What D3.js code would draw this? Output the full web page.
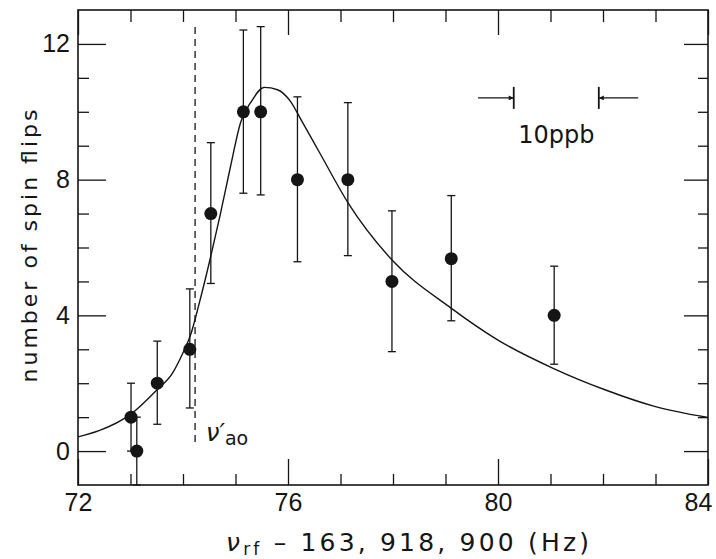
<!DOCTYPE html>
<html>
<head>
<meta charset="utf-8">
<script src="https://cdn.jsdelivr.net/npm/d3@7.9.0/dist/d3.min.js"></script>
<style>
  body { margin: 0; background: #fff; }
  svg { display: block; font-family: "DejaVu Sans", sans-serif; }
</style>
</head>
<body>
<svg id="chart" width="716" height="559"></svg>
<script>
// measured points (frequency offset in Hz, number of spin flips, error bar ends)
const freq  = [73.01, 73.12, 73.51, 74.13, 74.53, 75.15, 75.48, 76.18, 77.14, 77.98, 79.11, 81.07];
const flips = [1, 0, 2, 3, 7, 10, 10, 8, 8, 5, 5.67, 4];
const errHi = [2, 1, 3.24, 4.78, 9.09, 12.41, 12.51, 10.44, 10.27, 7.08, 7.53, 5.45];
const errLo = [0, -1, 0.79, 1.27, 4.94, 7.6, 7.55, 5.58, 5.76, 2.93, 3.84, 2.56];

// fitted line shape
const fitX = [72, 72.4, 73.0, 73.5, 73.8, 74.0, 74.15, 74.3, 74.5, 74.7, 74.9, 75.1, 75.3, 75.55,
              75.8, 76.05, 76.25, 76.6, 77.15, 78.0, 79.1, 80.0, 81.05, 82.05, 83.0, 84.0];
const fitY = [0.42, 0.6, 1.08, 1.8, 2.3, 2.9, 3.45, 4.3, 5.55, 6.9, 8.35, 9.7, 10.3, 10.72,
              10.65, 10.3, 9.76, 8.8, 7.3, 5.6, 4.22, 3.27, 2.44, 1.8, 1.31, 0.99];

const xTicks = [72, 76, 80, 84];
const yTicks = [0, 4, 8, 12];
const xMinor = [73, 74, 75, 77, 78, 79, 81, 82, 83];
const yMinor = [1, 2, 3, 5, 6, 7, 9, 10, 11];

const nuAo = 74.23;          // dashed line position
const nuAoSpan = [12.5, 0.25];
const ppbBars = [80.30, 81.92];
const ppbTails = [79.62, 82.67];
const ppbLevel = 10.41;

const svg = d3.select('#chart');
const ink = '#151515';

const x = d3.scaleLinear().domain([72, 84]).range([78, 708]);
const y = d3.scaleLinear().domain([-1, 13]).range([485, 10]);

// axes: ticks point inward on all four sides
function styleAxis(g, fs) {
  g.select('.domain').remove();
  g.selectAll('line').attr('stroke', ink).attr('stroke-width', 1.3);
  g.selectAll('text').attr('fill', ink).attr('font-size', fs);
}

svg.append('g').attr('transform', `translate(0,${y(-1)})`)
  .call(d3.axisBottom(x).tickValues(xTicks).tickSize(-26).tickPadding(8).tickFormat(d3.format('d')))
  .call(g => styleAxis(g, 25))
  .call(g => g.selectAll('.tick').filter(d => d === 84).select('text').attr('dx', -10));
svg.append('g').attr('transform', `translate(0,${y(-1)})`)
  .call(d3.axisBottom(x).tickValues(xMinor).tickSize(-11).tickFormat(''))
  .call(g => styleAxis(g, 10));
svg.append('g').attr('transform', `translate(0,${y(13)})`)
  .call(d3.axisTop(x).tickValues(xTicks).tickSize(-25).tickFormat(''))
  .call(g => styleAxis(g, 10));
svg.append('g').attr('transform', `translate(0,${y(13)})`)
  .call(d3.axisTop(x).tickValues(xMinor).tickSize(-12).tickFormat(''))
  .call(g => styleAxis(g, 10));

svg.append('g').attr('transform', `translate(${x(72)},0)`)
  .call(d3.axisLeft(y).tickValues(yTicks).tickSize(-28).tickPadding(8).tickFormat(d3.format('d')))
  .call(g => styleAxis(g, 25));
svg.append('g').attr('transform', `translate(${x(72)},0)`)
  .call(d3.axisLeft(y).tickValues(yMinor).tickSize(-11).tickFormat(''))
  .call(g => styleAxis(g, 10));
svg.append('g').attr('transform', `translate(${x(84)},0)`)
  .call(d3.axisRight(y).tickValues(yTicks).tickSize(-24).tickFormat(''))
  .call(g => styleAxis(g, 10));
svg.append('g').attr('transform', `translate(${x(84)},0)`)
  .call(d3.axisRight(y).tickValues(yMinor).tickSize(-10).tickFormat(''))
  .call(g => styleAxis(g, 10));

svg.append('rect')
  .attr('x', x(72)).attr('y', y(13))
  .attr('width', x(84) - x(72)).attr('height', y(-1) - y(13))
  .attr('fill', 'none').attr('stroke', ink).attr('stroke-width', 1.6);

// dashed marker
svg.append('line')
  .attr('x1', x(nuAo)).attr('x2', x(nuAo))
  .attr('y1', y(nuAoSpan[0])).attr('y2', y(nuAoSpan[1]))
  .attr('stroke', ink).attr('stroke-width', 1.3).attr('stroke-dasharray', '7,5');

const lab = svg.append('text').attr('x', x(nuAo) + 11).attr('y', y(0.3))
  .attr('fill', ink).attr('font-size', 24);
lab.append('tspan').attr('font-style', 'italic').text('ν′');
lab.append('tspan').attr('font-size', 19).attr('dy', 4).text('ao');

// fit curve
const line = d3.line().x(d => x(d[0])).y(d => y(d[1])).curve(d3.curveMonotoneX);
svg.append('path')
  .datum(d3.zip(fitX, fitY))
  .attr('d', line)
  .attr('fill', 'none').attr('stroke', ink).attr('stroke-width', 1.4);

// error bars and points
const pts = freq.map((f, i) => ({ f, n: flips[i], hi: errHi[i], lo: errLo[i] }));
const eb = svg.append('g').attr('stroke', ink).attr('stroke-width', 1.3);
eb.selectAll('.bar').data(pts).join('line')
  .attr('x1', d => x(d.f)).attr('x2', d => x(d.f))
  .attr('y1', d => y(d.hi)).attr('y2', d => y(d.lo));
eb.selectAll('.capHi').data(pts).join('line').attr('class', 'capHi')
  .attr('x1', d => x(d.f) - 4).attr('x2', d => x(d.f) + 4)
  .attr('y1', d => y(d.hi)).attr('y2', d => y(d.hi));
eb.selectAll('.capLo').data(pts).join('line').attr('class', 'capLo')
  .attr('x1', d => x(d.f) - 4).attr('x2', d => x(d.f) + 4)
  .attr('y1', d => y(d.lo)).attr('y2', d => y(d.lo));
svg.append('g').selectAll('circle').data(pts).join('circle')
  .attr('cx', d => x(d.f)).attr('cy', d => y(d.n)).attr('r', 6.5)
  .attr('fill', ink);

// 10 ppb scale marker
svg.append('defs').append('marker')
  .attr('id', 'head').attr('viewBox', '0 0 10 10').attr('refX', 10).attr('refY', 5)
  .attr('markerWidth', 7).attr('markerHeight', 5).attr('markerUnits', 'userSpaceOnUse')
  .attr('orient', 'auto')
  .append('path').attr('d', 'M0,0L10,5L0,10Z').attr('fill', ink);
const ppb = svg.append('g').attr('stroke', ink).attr('stroke-width', 1.2);
ppbBars.forEach((b, i) => {
  ppb.append('line')
    .attr('x1', x(ppbTails[i])).attr('x2', x(b))
    .attr('y1', y(ppbLevel)).attr('y2', y(ppbLevel))
    .attr('marker-end', 'url(#head)');
  ppb.append('line')
    .attr('x1', x(b)).attr('x2', x(b))
    .attr('y1', y(ppbLevel) - 11).attr('y2', y(ppbLevel) + 11)
    .attr('stroke-width', 1.8);
});
svg.append('text')
  .attr('x', x(d3.mean(ppbBars))).attr('y', y(ppbLevel) + 45)
  .attr('text-anchor', 'middle').attr('font-size', 24).attr('fill', ink)
  .text('10ppb');

// axis titles
const xt = svg.append('text').attr('x', 226).attr('y', 551)
  .attr('fill', ink).attr('font-size', 25)
  .attr('textLength', 363).attr('lengthAdjust', 'spacing');
xt.append('tspan').attr('font-style', 'italic').text('ν');
xt.append('tspan').attr('font-size', 17).attr('dy', 4).text('rf');
xt.append('tspan').attr('dy', -4).text(' – 163, 918, 900  (Hz)');

svg.append('text')
  .attr('transform', 'translate(37,246) rotate(-90)')
  .attr('text-anchor', 'middle').attr('font-size', 22).attr('fill', ink)
  .attr('textLength', 273).attr('lengthAdjust', 'spacing')
  .text('number of spin flips');
</script>
</body>
</html>
